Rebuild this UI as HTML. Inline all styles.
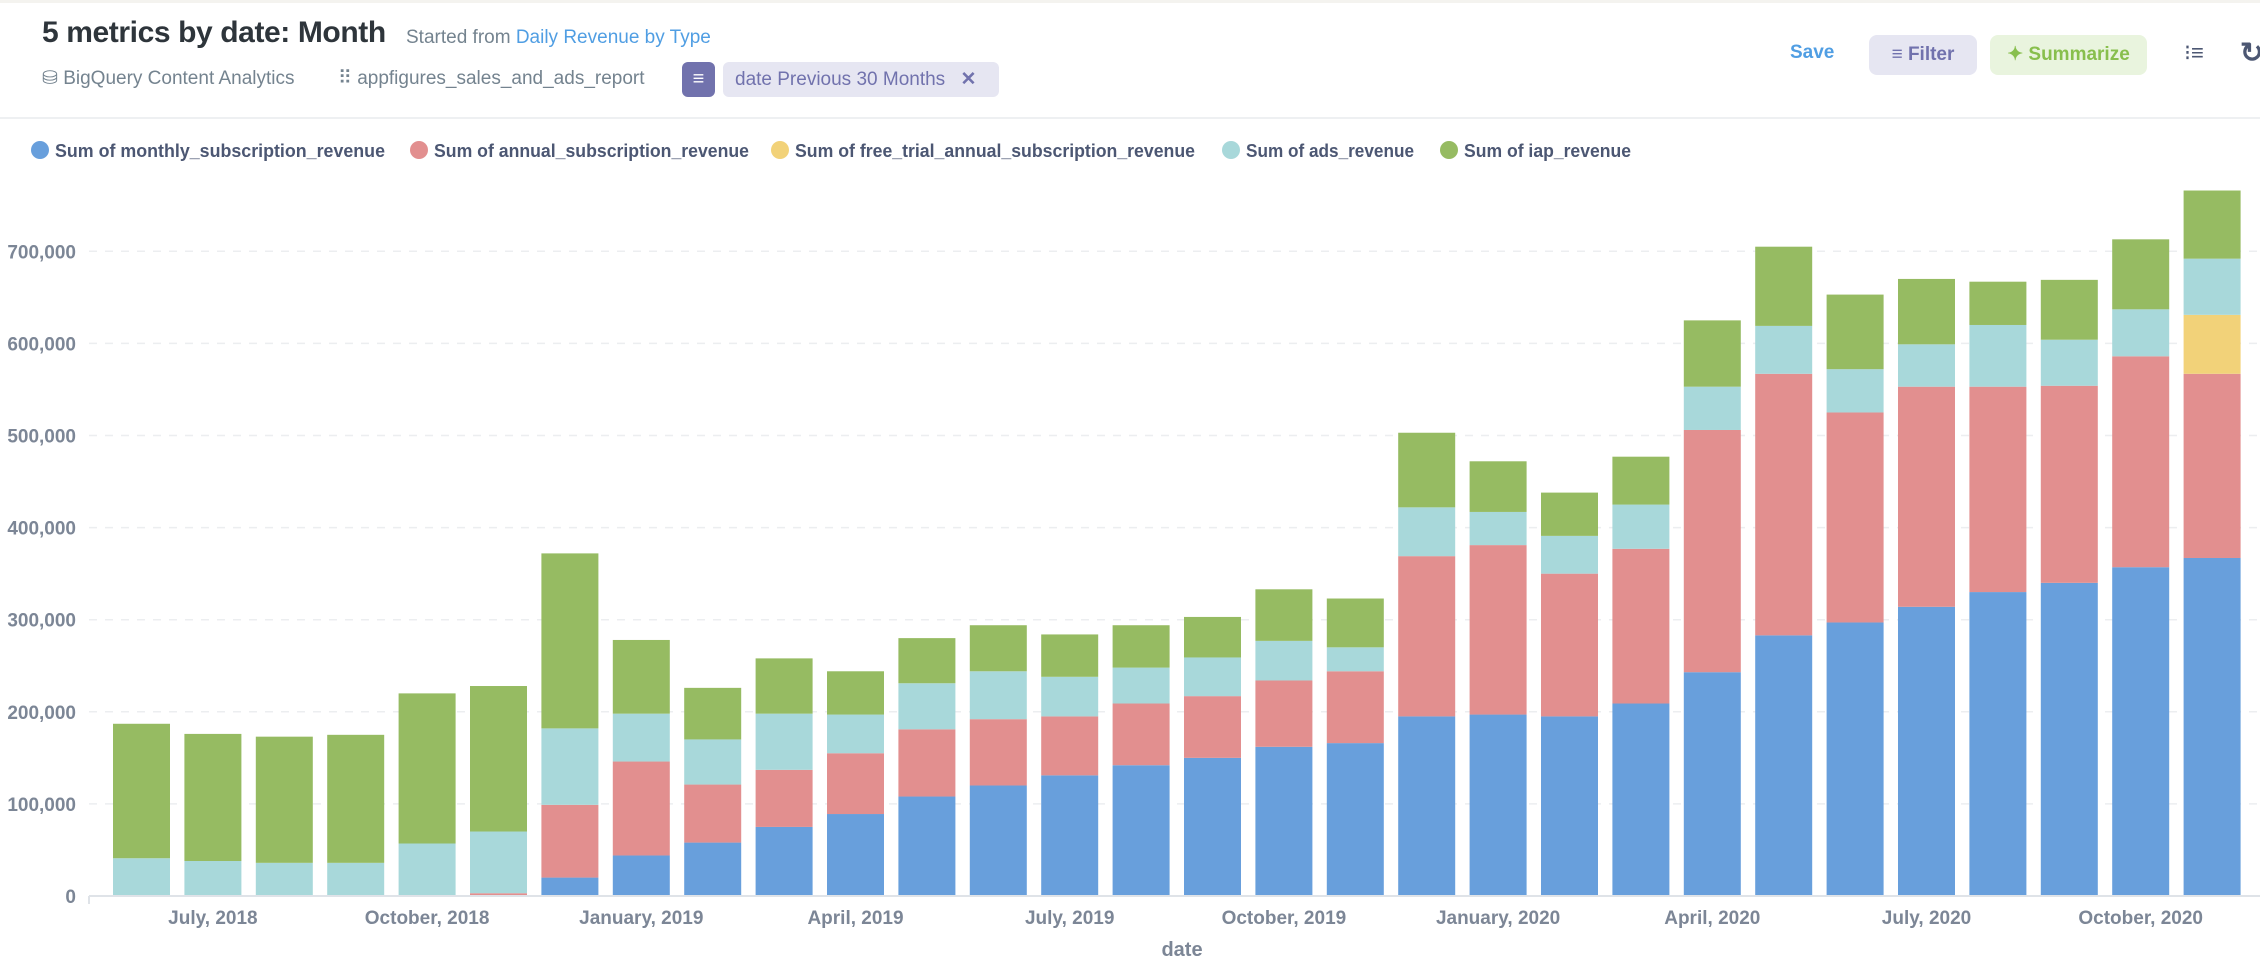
<!DOCTYPE html>
<html><head><meta charset="utf-8">
<style>
body{margin:0;width:2260px;height:966px;overflow:hidden;background:#fff;font-family:"Liberation Sans",sans-serif;position:relative}
.abs{position:absolute;white-space:nowrap}
</style></head><body>
<div class="abs" style="left:0;top:0;width:2260px;height:3px;background:#f4f3ef"></div>
<div class="abs" style="left:42px;top:16px;font-size:30px;font-weight:bold;color:#2e353b;letter-spacing:-0.4px">5 metrics by date: Month</div>
<div class="abs" style="left:406px;top:27px;font-size:19px;color:#74838f">Started from <span style="color:#509ee3">Daily Revenue by Type</span></div>
<div class="abs" style="left:42px;top:67px;font-size:19px;color:#74838f">⛁ BigQuery Content Analytics</div>
<div class="abs" style="left:338px;top:67px;font-size:19px;color:#74838f">⠿ appfigures_sales_and_ads_report</div>
<div class="abs" style="left:682px;top:62px;width:33px;height:35px;background:#7172ad;border-radius:6px;color:#fff;font-size:20px;text-align:center;line-height:35px">≡</div>
<div class="abs" style="left:723px;top:62px;width:276px;height:35px;background:#e6e6f2;border-radius:6px;color:#7172ad;font-size:19px;line-height:35px;padding-left:12px;box-sizing:border-box">date Previous 30 Months <span style="margin-left:10px;font-weight:bold">✕</span></div>
<div class="abs" style="left:1790px;top:42px;font-size:19px;font-weight:bold;color:#509ee3">Save</div>
<div class="abs" style="left:1869px;top:35px;width:108px;height:40px;background:#e6e6f2;border-radius:8px;color:#7172ad;font-size:19px;font-weight:bold;line-height:40px;text-align:center">≡ Filter</div>
<div class="abs" style="left:1990px;top:35px;width:157px;height:40px;background:#e9f4de;border-radius:8px;color:#88bf4d;font-size:19px;font-weight:bold;line-height:40px;text-align:center">✦ Summarize</div>
<div class="abs" style="left:2184px;top:40px;font-size:22px;color:#4c5773">⁝≡</div>
<div class="abs" style="left:2240px;top:36px;font-size:28px;color:#4c5773;font-weight:bold">↻</div>
<div class="abs" style="left:0;top:117px;width:2260px;height:2px;background:#eef0f2"></div>
<svg id="chart" class="abs" style="left:0;top:0" width="2260" height="966"></svg>
<script>
const months=["Jun 2018","Jul 2018","Aug 2018","Sep 2018","Oct 2018","Nov 2018","Dec 2018","Jan 2019","Feb 2019","Mar 2019","Apr 2019","May 2019","Jun 2019","Jul 2019","Aug 2019","Sep 2019","Oct 2019","Nov 2019","Dec 2019","Jan 2020","Feb 2020","Mar 2020","Apr 2020","May 2020","Jun 2020","Jul 2020","Aug 2020","Sep 2020","Oct 2020","Nov 2020"];
const monthlyRev=[0,0,0,0,0,1000,20000,44000,58000,75000,89000,108000,120000,131000,142000,150000,162000,166000,195000,197000,195000,209000,243000,283000,297000,314000,330000,340000,357000,367000];
const annualRev=[0,0,0,0,0,2000,79000,102000,63000,62000,66000,73000,72000,64000,67000,67000,72000,78000,174000,184000,155000,168000,263000,284000,228000,239000,223000,214000,229000,200000];
const freeTrialRev=[0,0,0,0,0,0,0,0,0,0,0,0,0,0,0,0,0,0,0,0,0,0,0,0,0,0,0,0,0,64000];
const adsRev=[41000,38000,36000,36000,57000,67000,83000,52000,49000,61000,42000,50000,52000,43000,39000,42000,43000,26000,53000,36000,41000,48000,47000,52000,47000,46000,67000,50000,51000,61000];
const iapRev=[146000,138000,137000,139000,163000,158000,190000,80000,56000,60000,47000,49000,50000,46000,46000,44000,56000,53000,81000,55000,47000,52000,72000,86000,81000,71000,47000,65000,76000,74000];
const yTicks=[0,100000,200000,300000,400000,500000,600000,700000];
const xTickLabels=["July, 2018","October, 2018","January, 2019","April, 2019","July, 2019","October, 2019","January, 2020","April, 2020","July, 2020","October, 2020"];
const xTickIndex=[1,4,7,10,13,16,19,22,25,28];
const seriesNames=["Sum of monthly_subscription_revenue","Sum of annual_subscription_revenue","Sum of free_trial_annual_subscription_revenue","Sum of ads_revenue","Sum of iap_revenue"];
const colors=["#689fdc","#e28f8f","#f2d279","#a8d8da","#96bb62"];
const series=[monthlyRev,annualRev,freeTrialRev,adsRev,iapRev];
const NS="http://www.w3.org/2000/svg";
const svg=document.getElementById('chart');
const y0=896, pxPer=92.1/100000, band=71.4, bw=57, x0=113;
const yScale=v=>y0-v*pxPer;
const xScale=i=>x0+i*band;
function mk(t,a){const e=document.createElementNS(NS,t);for(const k in a)e.setAttribute(k,a[k]);svg.appendChild(e);return e;}
yTicks.forEach(v=>{
  const y=yScale(v);
  if(v>0){const g=mk('line',{x1:89,x2:2260,y1:y,y2:y,stroke:'#eceef0','stroke-dasharray':'8 8','stroke-width':1.5});
  
  }
  const t=mk('text',{x:76,y:y+7,'text-anchor':'end','font-size':19,'font-weight':'bold',fill:'#7c8696'});
  t.textContent=v.toLocaleString('en-US');
  
  
});
months.forEach((m,i)=>{
  let acc=0;
  series.forEach((s,k)=>{
    const v=s[i]; if(!v) return;
    const r=mk('rect',{x:xScale(i),y:yScale(acc+v),width:bw,height:v*pxPer,fill:colors[k]});
    
    
    acc+=v;
  });
});
const ax=mk('line',{x1:89,x2:2260,y1:y0,y2:y0,stroke:'#dfe3e8','stroke-width':2});


const tk=mk('line',{x1:89,x2:89,y1:y0,y2:y0+8,stroke:'#dfe3e8','stroke-width':2});


xTickLabels.forEach((l,j)=>{
  const t=mk('text',{x:xScale(xTickIndex[j])+bw/2,y:924,'text-anchor':'middle','font-size':19,'font-weight':'bold',fill:'#7c8696'});
  t.textContent=l;
  
  
});
const xt=mk('text',{x:1182,y:956,'text-anchor':'middle','font-size':20,'font-weight':'bold',fill:'#7c8696'});
xt.textContent='date';


const legendX=[32,411,772,1223,1441];
const legendW=[330,315,400,168,167];
seriesNames.forEach((n,k)=>{
  const c=mk('circle',{cx:legendX[k]+8,cy:150,r:9,fill:colors[k]});
  
  
  const t=mk('text',{x:legendX[k]+23,y:157,'font-size':18.5,'font-weight':'bold',fill:'#4c5773',textLength:legendW[k],lengthAdjust:'spacingAndGlyphs'});
  t.textContent=n;
  
  
});
</script>
</body></html>
